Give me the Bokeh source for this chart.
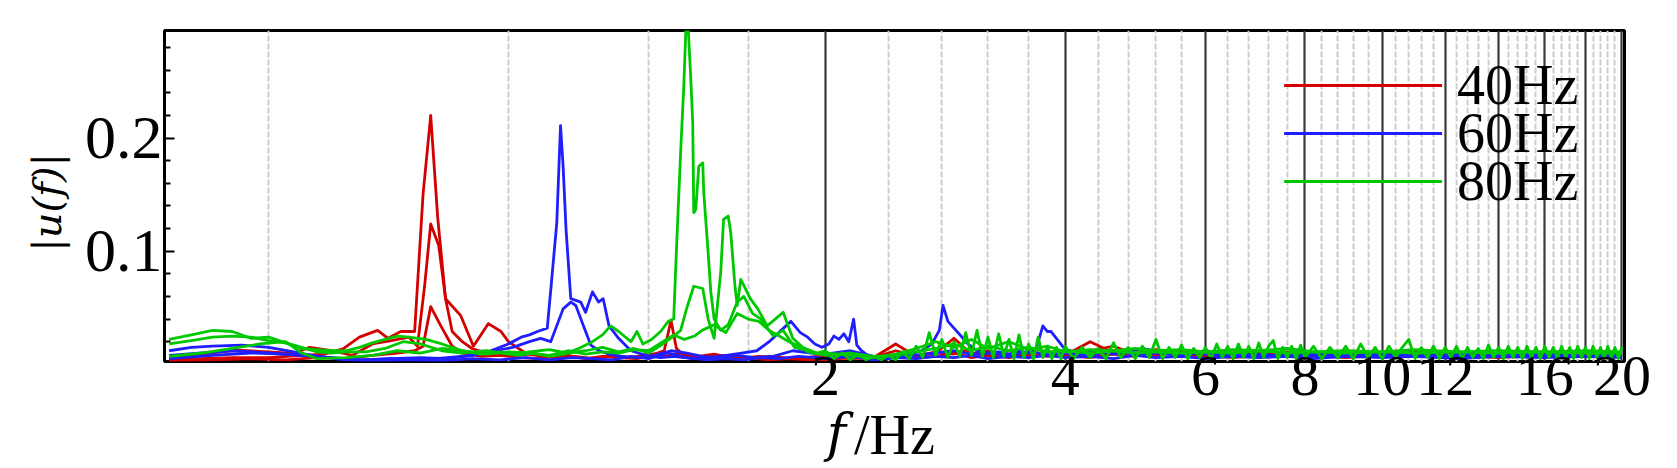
from bokeh.plotting import figure
from bokeh.models import (Range1d, FixedTicker, Legend, LegendItem, Grid,
                          BasicTickFormatter, LogAxis)
from bokeh.embed import file_html
from bokeh.resources import INLINE

FONT = "Liberation Serif"
IFONT = "DejaVu Serif"

# ---------------- data ----------------
series_labels = ["40Hz", "60Hz", "80Hz"]
x_ticks = [2, 4, 6, 8, 10, 12, 16, 20]
y_ticks = [0.1, 0.2]

# shared coarse high-frequency grid (Hz)
f_hf = [2.0, 2.15, 2.3, 2.45, 2.6, 2.75, 2.9, 3.05, 3.2, 3.4,
        3.6, 3.8, 4.0, 4.3, 4.6, 4.9, 5.2, 5.6, 6.0, 6.5,
        7.0, 7.6, 8.2, 9.0, 10.0, 11.0, 12.5, 14.0, 16.0, 18.0,
        20.0]

# dense high-frequency grid (Hz) for the uppermost 80 Hz trace
f_hf_dense = [2.00, 2.05, 2.10, 2.15, 2.20, 2.25, 2.30, 2.35, 2.40, 2.45,
              2.50, 2.55, 2.60, 2.65, 2.70, 2.75, 2.80, 2.85, 2.90, 2.95,
              3.00, 3.05, 3.10, 3.15, 3.20, 3.25, 3.30, 3.35, 3.40, 3.45,
              3.50, 3.55, 3.60, 3.65, 3.70, 3.75, 3.80, 3.85, 3.90, 3.95,
              4.0, 4.1, 4.2, 4.3, 4.4, 4.5, 4.6, 4.7, 4.8, 4.9,
              5.0, 5.1, 5.2, 5.3, 5.4, 5.5, 5.6, 5.7, 5.8, 5.9,
              6.0, 6.1, 6.2, 6.3, 6.4, 6.5, 6.6, 6.7, 6.8, 6.9,
              7.0, 7.1, 7.2, 7.3, 7.4, 7.5, 7.6, 7.7, 7.8, 7.9,
              8.0, 8.2, 8.4, 8.6, 8.8, 9.0, 9.2, 9.4, 9.6, 9.8,
              10.0, 10.2, 10.4, 10.6, 10.8, 11.0, 11.2, 11.4, 11.6, 11.8,
              12.0, 12.2, 12.4, 12.6, 12.8, 13.0, 13.2, 13.4, 13.6, 13.8,
              14.0, 14.2, 14.4, 14.6, 14.8, 15.0, 15.2, 15.4, 15.6, 15.8,
              16.0, 16.2, 16.4, 16.6, 16.8, 17.0, 17.2, 17.4, 17.6, 17.8,
              18.0, 18.2, 18.4, 18.6, 18.8, 19.0, 19.2, 19.4, 19.6, 19.8,
              20.0]

# ---- 40 Hz (red) ----
r1_f = [0.30, 0.33, 0.36, 0.40, 0.44, 0.47, 0.497, 0.52, 0.548, 0.565,
        0.586, 0.61, 0.625, 0.639, 0.652, 0.667, 0.697, 0.723, 0.755, 0.783,
        0.80, 0.84, 0.88, 0.92, 0.97, 1.02, 1.08, 1.14, 1.20, 1.26,
        1.32, 1.40, 1.50, 1.60, 1.70, 1.80, 1.90]
r1_v = [0.004, 0.005, 0.006, 0.006, 0.008, 0.009, 0.014, 0.024, 0.030, 0.023,
        0.029, 0.029, 0.150, 0.220, 0.130, 0.058, 0.043, 0.016, 0.036, 0.029,
        0.020, 0.010, 0.008, 0.006, 0.007, 0.005, 0.008, 0.006, 0.009, 0.007,
        0.010, 0.006, 0.008, 0.005, 0.007, 0.005, 0.006]
r1_hf = [0.007, 0.005, 0.006, 0.012, 0.008, 0.010, 0.023, 0.009, 0.012, 0.008,
         0.011, 0.009, 0.010, 0.012, 0.016, 0.009, 0.012, 0.008, 0.010, 0.009,
         0.011, 0.008, 0.010, 0.009, 0.010, 0.008, 0.010, 0.009, 0.010, 0.008,
         0.009]

r2_f = [0.30, 0.33, 0.365, 0.40, 0.43, 0.45, 0.48, 0.51, 0.54, 0.57,
        0.60, 0.615, 0.628, 0.639, 0.654, 0.667, 0.68, 0.70, 0.72, 0.75,
        0.80, 0.85, 0.90, 0.95, 1.0, 1.05, 1.1, 1.16, 1.22, 1.28,
        1.35, 1.45, 1.55, 1.65, 1.75, 1.85, 1.95]
r2_v = [0.006, 0.009, 0.0125, 0.011, 0.0097, 0.015, 0.012, 0.008, 0.018, 0.021,
        0.024, 0.016, 0.070, 0.124, 0.105, 0.058, 0.029, 0.020, 0.014, 0.010,
        0.008, 0.009, 0.006, 0.008, 0.005, 0.007, 0.006, 0.005, 0.008, 0.007,
        0.006, 0.009, 0.005, 0.007, 0.006, 0.005, 0.007]
r2_hf = [0.005, 0.008, 0.006, 0.018, 0.007, 0.011, 0.009, 0.014, 0.008, 0.012,
         0.007, 0.010, 0.008, 0.020, 0.010, 0.013, 0.008, 0.011, 0.009, 0.010,
         0.008, 0.011, 0.009, 0.010, 0.008, 0.011, 0.009, 0.010, 0.008, 0.010,
         0.009]

r3_f = [0.30, 0.34, 0.38, 0.42, 0.46, 0.50, 0.54, 0.58, 0.61, 0.625,
        0.639, 0.658, 0.68, 0.70, 0.74, 0.78, 0.83, 0.88, 0.93, 0.98,
        1.03, 1.08, 1.13, 1.18, 1.23, 1.255, 1.28, 1.30, 1.33, 1.38,
        1.45, 1.52, 1.60, 1.70, 1.80, 1.90]
r3_v = [0.003, 0.004, 0.005, 0.004, 0.006, 0.005, 0.008, 0.010, 0.012, 0.016,
        0.051, 0.034, 0.016, 0.010, 0.007, 0.008, 0.006, 0.005, 0.007, 0.006,
        0.005, 0.008, 0.006, 0.007, 0.010, 0.012, 0.039, 0.014, 0.008, 0.006,
        0.007, 0.005, 0.006, 0.004, 0.005, 0.004]
r3_hf = [0.004, 0.006, 0.005, 0.008, 0.006, 0.007, 0.010, 0.006, 0.008, 0.006,
         0.009, 0.007, 0.008, 0.006, 0.009, 0.007, 0.013, 0.007, 0.008, 0.006,
         0.008, 0.007, 0.008, 0.006, 0.008, 0.007, 0.008, 0.006, 0.008, 0.007,
         0.008]

# ---- 60 Hz (blue) ----
b1_f = [0.30, 0.32, 0.34, 0.37, 0.40, 0.43, 0.46, 0.49, 0.53, 0.57,
        0.62, 0.67, 0.72, 0.76, 0.80, 0.83, 0.85, 0.87, 0.895, 0.905,
        0.92, 0.93, 0.937, 0.945, 0.958, 0.986, 1.00, 1.02, 1.038, 1.052,
        1.07, 1.10, 1.14, 1.19, 1.24, 1.30, 1.36, 1.43, 1.50, 1.57,
        1.64, 1.70, 1.76, 1.81, 1.86, 1.90, 1.94, 1.98,
        2.02, 2.05, 2.08, 2.11, 2.14, 2.17, 2.19, 2.22, 2.26, 2.32,
        2.40, 2.48, 2.56, 2.64, 2.72, 2.78, 2.81, 2.85, 2.90, 2.96,
        3.02, 3.10, 3.20, 3.30, 3.40, 3.50, 3.60, 3.68, 3.75, 3.80,
        3.84, 3.92, 4.0, 4.2, 4.4, 4.6, 4.8, 5.0, 5.4, 5.8,
        6.2, 6.6, 7.0, 7.5, 8.0, 9.0, 10.0, 11.0, 12.0, 13.0,
        14.0, 15.0, 16.0, 17.0, 18.0, 19.0, 20.0]
b1_v = [0.012, 0.015, 0.016, 0.017, 0.015, 0.011, 0.007, 0.005, 0.004, 0.005,
        0.006, 0.005, 0.008, 0.012, 0.018, 0.024, 0.026, 0.029, 0.032, 0.069,
        0.125, 0.211, 0.175, 0.119, 0.058, 0.055, 0.046, 0.064, 0.055, 0.058,
        0.034, 0.023, 0.012, 0.008, 0.006, 0.007, 0.005, 0.006, 0.008, 0.010,
        0.012, 0.020, 0.030, 0.038, 0.028, 0.024, 0.018, 0.015,
        0.018, 0.025, 0.022, 0.027, 0.020, 0.040, 0.017, 0.012, 0.008, 0.006,
        0.005, 0.007, 0.009, 0.012, 0.018, 0.030, 0.052, 0.038, 0.032, 0.025,
        0.018, 0.012, 0.010, 0.011, 0.009, 0.012, 0.010, 0.014, 0.034, 0.029,
        0.029, 0.021, 0.013, 0.010, 0.012, 0.009, 0.011, 0.014, 0.009, 0.010,
        0.008, 0.009, 0.007, 0.008, 0.007, 0.008, 0.007, 0.008, 0.007, 0.008,
        0.007, 0.008, 0.007, 0.008, 0.007, 0.008, 0.007]

b2_f = [0.30, 0.33, 0.36, 0.40, 0.44, 0.48, 0.52, 0.57, 0.62, 0.67,
        0.72, 0.77, 0.81, 0.85, 0.878, 0.904, 0.937, 0.958, 0.972, 1.00,
        1.015, 1.04, 1.07, 1.11, 1.16, 1.22, 1.28, 1.34, 1.40, 1.47,
        1.55, 1.63, 1.72, 1.82, 1.92]
b2_v = [0.008, 0.010, 0.012, 0.010, 0.008, 0.006, 0.004, 0.005, 0.004, 0.006,
        0.008, 0.012, 0.015, 0.020, 0.023, 0.020, 0.049, 0.055, 0.052, 0.029,
        0.017, 0.012, 0.009, 0.007, 0.006, 0.008, 0.012, 0.010, 0.007, 0.006,
        0.008, 0.006, 0.007, 0.012, 0.010]
b2_hf = [0.009, 0.012, 0.007, 0.006, 0.008, 0.010, 0.012, 0.009, 0.010, 0.008,
         0.011, 0.009, 0.010, 0.008, 0.012, 0.009, 0.010, 0.008, 0.012, 0.008,
         0.009, 0.007, 0.009, 0.008, 0.009, 0.007, 0.009, 0.008, 0.009, 0.007,
         0.008]

b3_f = [0.30, 0.34, 0.38, 0.42, 0.46, 0.50, 0.55, 0.60, 0.66, 0.72,
        0.78, 0.84, 0.90, 0.96, 1.02, 1.08, 1.14, 1.20, 1.27, 1.34,
        1.42, 1.50, 1.58, 1.66, 1.75, 1.85, 1.95]
b3_v = [0.005, 0.008, 0.010, 0.009, 0.007, 0.004, 0.003, 0.004, 0.003, 0.005,
        0.004, 0.006, 0.004, 0.006, 0.005, 0.004, 0.007, 0.005, 0.010, 0.006,
        0.004, 0.005, 0.004, 0.006, 0.005, 0.007, 0.006]
b3_hf = [0.005, 0.007, 0.004, 0.006, 0.005, 0.007, 0.006, 0.008, 0.005, 0.007,
         0.006, 0.008, 0.006, 0.007, 0.005, 0.008, 0.006, 0.007, 0.005, 0.007,
         0.006, 0.007, 0.005, 0.007, 0.006, 0.007, 0.005, 0.007, 0.006, 0.007,
         0.006]

# ---- 80 Hz (green) ----
g1_f = [0.30, 0.32, 0.34, 0.36, 0.38, 0.40, 0.42, 0.44, 0.46, 0.48,
        0.50, 0.52, 0.54, 0.56, 0.58, 0.60, 0.63, 0.66, 0.70, 0.74,
        0.78, 0.82, 0.86, 0.90, 0.94, 0.98, 1.02, 1.05, 1.075, 1.10,
        1.14, 1.16, 1.18, 1.21, 1.242, 1.27, 1.29, 1.30, 1.316, 1.328,
        1.34, 1.355, 1.363, 1.367, 1.375, 1.387, 1.403, 1.407, 1.425, 1.436,
        1.45, 1.478, 1.51, 1.55, 1.58, 1.62, 1.66, 1.72, 1.77, 1.83,
        1.90, 1.95]
g1_v = [0.022, 0.026, 0.030, 0.029, 0.023, 0.024, 0.019, 0.014, 0.013, 0.012,
        0.012, 0.015, 0.019, 0.022, 0.025, 0.024, 0.022, 0.018, 0.012, 0.009,
        0.011, 0.008, 0.010, 0.007, 0.009, 0.014, 0.020, 0.026, 0.034, 0.029,
        0.020, 0.029, 0.018, 0.022, 0.029, 0.038, 0.040, 0.100, 0.187, 0.245,
        0.320, 0.254, 0.213, 0.134, 0.137, 0.175, 0.178, 0.152, 0.099, 0.064,
        0.040, 0.030, 0.035, 0.055, 0.060, 0.045, 0.040, 0.025, 0.030, 0.015,
        0.012, 0.010]
g1_hf = [0.012, 0.005, 0.010, 0.004, 0.009, 0.004, 0.007, 0.004, 0.008, 0.004,
         0.011, 0.005, 0.016, 0.006, 0.028, 0.008, 0.022, 0.006, 0.020, 0.007,
         0.028, 0.008, 0.030, 0.007, 0.024, 0.006, 0.027, 0.007, 0.022, 0.005,
         0.026, 0.006, 0.018, 0.005, 0.024, 0.006, 0.016, 0.005, 0.015, 0.005,
         0.016, 0.005, 0.015, 0.006, 0.014, 0.005, 0.019, 0.006, 0.015, 0.005,
         0.016, 0.006, 0.022, 0.005, 0.015, 0.006, 0.017, 0.005, 0.014, 0.006,
         0.015, 0.005, 0.018, 0.006, 0.016, 0.005, 0.018, 0.006, 0.016, 0.005,
         0.019, 0.006, 0.016, 0.021, 0.005, 0.015, 0.006, 0.016, 0.005, 0.017,
         0.006, 0.016, 0.005, 0.015, 0.006, 0.016, 0.005, 0.018, 0.006, 0.015,
         0.005, 0.016, 0.006, 0.015, 0.022, 0.005, 0.015, 0.006, 0.016, 0.005,
         0.015, 0.006, 0.016, 0.005, 0.015, 0.006, 0.014, 0.005, 0.017, 0.006,
         0.015, 0.005, 0.016, 0.006, 0.015, 0.005, 0.016, 0.006, 0.015, 0.005,
         0.016, 0.006, 0.015, 0.005, 0.016, 0.006, 0.015, 0.005, 0.016, 0.006,
         0.015, 0.005, 0.016, 0.006, 0.015, 0.005, 0.016, 0.006, 0.015, 0.005,
         0.015]

g2_f = [0.30, 0.32, 0.34, 0.36, 0.38, 0.40, 0.42, 0.44, 0.46, 0.48,
        0.50, 0.53, 0.56, 0.59, 0.62, 0.66, 0.70, 0.75, 0.80, 0.85,
        0.90, 0.95, 1.00, 1.05, 1.10, 1.15, 1.20, 1.25, 1.29, 1.316,
        1.34, 1.367, 1.403, 1.425, 1.45, 1.478, 1.49, 1.51, 1.521, 1.54,
        1.55, 1.566, 1.61, 1.645, 1.69, 1.73, 1.77, 1.82, 1.90, 1.96]
g2_v = [0.018, 0.021, 0.024, 0.025, 0.024, 0.021, 0.019, 0.015, 0.011, 0.010,
        0.011, 0.011, 0.014, 0.020, 0.018, 0.012, 0.010, 0.012, 0.009, 0.011,
        0.013, 0.010, 0.012, 0.015, 0.011, 0.014, 0.010, 0.018, 0.025, 0.030,
        0.050, 0.069, 0.067, 0.040, 0.023, 0.082, 0.128, 0.131, 0.117, 0.069,
        0.052, 0.075, 0.058, 0.049, 0.034, 0.040, 0.046, 0.023, 0.011, 0.009]
g2_hf = [0.010, 0.008, 0.006, 0.009, 0.014, 0.020, 0.015, 0.022, 0.014, 0.020,
         0.013, 0.016, 0.011, 0.013, 0.012, 0.014, 0.012, 0.013, 0.011, 0.013,
         0.012, 0.014, 0.011, 0.012, 0.011, 0.013, 0.011, 0.012, 0.011, 0.012,
         0.011]

g3_f = [0.30, 0.33, 0.36, 0.39, 0.42, 0.44, 0.46, 0.50, 0.54, 0.58,
        0.62, 0.66, 0.70, 0.75, 0.80, 0.85, 0.90, 0.95, 1.00, 1.05,
        1.10, 1.15, 1.20, 1.25, 1.29, 1.33, 1.37, 1.40, 1.45, 1.50,
        1.55, 1.60, 1.65, 1.70, 1.75, 1.80, 1.87, 1.95]
g3_v = [0.007, 0.010, 0.014, 0.018, 0.020, 0.010, 0.005, 0.006, 0.008, 0.012,
        0.010, 0.014, 0.012, 0.009, 0.011, 0.010, 0.008, 0.012, 0.009, 0.011,
        0.010, 0.013, 0.012, 0.020, 0.026, 0.022, 0.025, 0.030, 0.035, 0.028,
        0.045, 0.040, 0.038, 0.030, 0.025, 0.020, 0.015, 0.010]
g3_hf = [0.008, 0.010, 0.007, 0.008, 0.011, 0.014, 0.018, 0.012, 0.016, 0.012,
         0.015, 0.011, 0.012, 0.010, 0.012, 0.010, 0.011, 0.010, 0.011, 0.010,
         0.012, 0.010, 0.011, 0.010, 0.011, 0.010, 0.011, 0.010, 0.011, 0.010,
         0.010]

# ---------------- figure ----------------
p = figure(width=1670, height=468, x_axis_type="log",
           x_range=Range1d(0.296, 20.15), y_range=Range1d(0.0025, 0.295),
           output_backend="svg", toolbar_location=None, title=None,
           min_border_left=164, min_border_right=46,
           min_border_top=30, min_border_bottom=105)
p.background_fill_color = "white"
p.border_fill_color = "white"
p.outline_line_color = "black"
p.outline_line_width = 3
p.xgrid.visible = False
p.ygrid.visible = False

minor_lines = [round(0.4 * k, 1) for k in range(1, 50) if k % 5 != 0]
major_lines = [2, 4, 6, 8, 10, 12, 14, 16, 18, 20]
p.add_layout(Grid(dimension=0, ticker=FixedTicker(ticks=minor_lines),
                  grid_line_color="#cdcdcd", grid_line_width=2,
                  grid_line_dash="6 2"))
p.add_layout(Grid(dimension=0, ticker=FixedTicker(ticks=major_lines),
                  grid_line_color="#3a3a3a", grid_line_width=2.2))

xa = p.xaxis[0]
xa.ticker = FixedTicker(ticks=x_ticks)
xa.formatter = BasicTickFormatter()
xa.major_label_text_font = FONT
xa.major_label_text_font_size = "58px"
xa.major_label_text_color = "black"
xa.major_tick_in = 0
xa.major_tick_out = 0
xa.minor_tick_in = 0
xa.minor_tick_out = 0
xa.axis_line_color = None
xa.major_label_standoff = -5

# second bottom axis that carries the x title: italic "f" + upright "/Hz"
title_tick = 2.065
tax = LogAxis(ticker=FixedTicker(ticks=[title_tick]),
              formatter=BasicTickFormatter(),
              major_label_overrides={title_tick: "f"},
              major_label_text_font=IFONT, major_label_text_font_style="italic",
              major_label_text_font_size="52px", major_label_text_color="black",
              major_label_standoff=5,
              major_tick_in=0, major_tick_out=0, minor_tick_in=0, minor_tick_out=0,
              axis_line_color=None,
              axis_label="/Hz", axis_label_text_font=FONT,
              axis_label_text_font_style="normal",
              axis_label_text_font_size="56px", axis_label_text_color="black",
              axis_label_standoff=-62)
p.add_layout(tax, "below")

ya = p.yaxis[0]
ya.ticker = FixedTicker(ticks=y_ticks,
                        minor_ticks=[0.02, 0.04, 0.06, 0.08, 0.12, 0.14, 0.16,
                                     0.18, 0.22, 0.24, 0.26, 0.28])
ya.major_label_text_font = FONT
ya.major_label_text_font_size = "62px"
ya.major_label_text_color = "black"
ya.major_tick_in = 10
ya.major_tick_out = 0
ya.major_tick_line_width = 2
ya.minor_tick_in = 6
ya.minor_tick_out = 0
ya.minor_tick_line_width = 2
ya.axis_line_color = None
ya.major_label_standoff = 2
ya.axis_label = "|u(f)| "
ya.axis_label_text_font = IFONT
ya.axis_label_text_font_style = "italic"
ya.axis_label_text_font_size = "40px"
ya.axis_label_text_color = "black"
ya.axis_label_standoff = 12

RED, BLUE, GREEN = "#d40000", "#1e1eff", "#00c800"
LW = 2.8


def draw(fl, vl, color):
    return p.line(fl, vl, line_color=color, line_width=LW, line_join="round")


r1 = draw(r1_f + f_hf, r1_v + r1_hf, RED)
r2 = draw(r2_f + f_hf, r2_v + r2_hf, RED)
r3 = draw(r3_f + f_hf, r3_v + r3_hf, RED)
b1 = draw(b1_f, b1_v, BLUE)
b2 = draw(b2_f + f_hf, b2_v + b2_hf, BLUE)
b3 = draw(b3_f + f_hf, b3_v + b3_hf, BLUE)
g3 = draw(g3_f + f_hf, g3_v + g3_hf, GREEN)
g2 = draw(g2_f + f_hf, g2_v + g2_hf, GREEN)
g1 = draw(g1_f + f_hf_dense, g1_v + g1_hf, GREEN)

# one legend box per entry so that the rows can sit closer than the font box
legend_rows = [(series_labels[0], [r1, r2, r3], 244),
               (series_labels[1], [b1, b2, b3], 196),
               (series_labels[2], [g1, g2, g3], 148)]
for lab, rends, vy in legend_rows:
    p.add_layout(Legend(items=[LegendItem(label=lab, renderers=rends)],
                        location=(1120, vy), padding=0, margin=0, spacing=0,
                        glyph_width=158, glyph_height=40, label_standoff=15,
                        label_text_font=FONT, label_text_font_size="56px",
                        label_text_color="black",
                        border_line_color=None, background_fill_alpha=0))

open("out.html", "w").write(file_html(p, INLINE))
